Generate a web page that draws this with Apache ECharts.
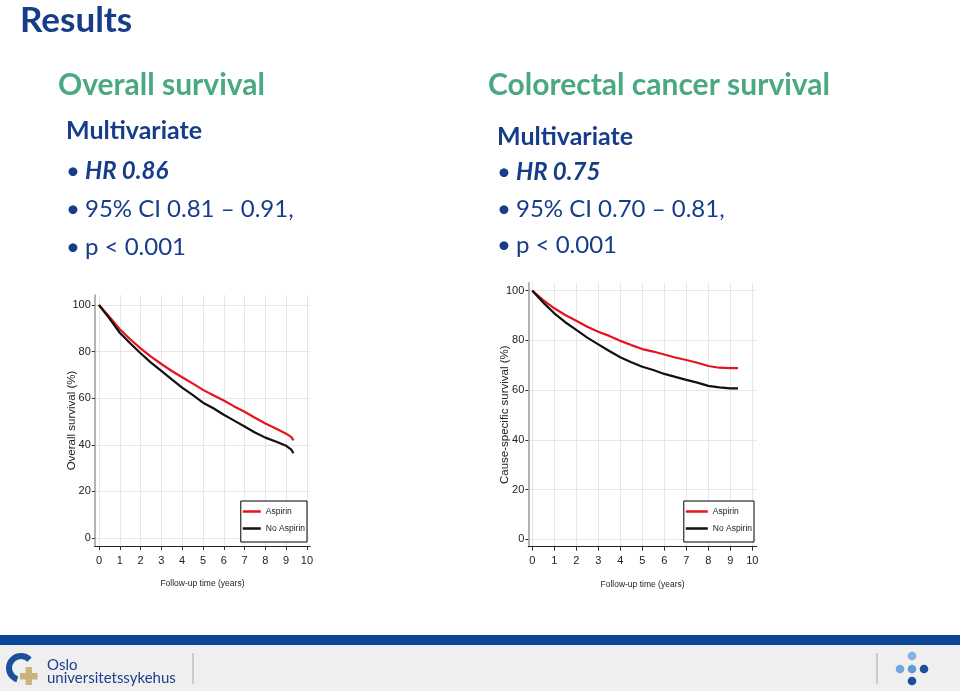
<!DOCTYPE html>
<html>
<head>
<meta charset="utf-8">
<script src="https://cdn.jsdelivr.net/npm/echarts@6/dist/echarts.min.js"></script>
<style>
html,body{margin:0;padding:0;background:#fff;}
#chart{width:960px;height:691px;}
</style>
</head>
<body>
<div id="chart"></div>
<script>
// ---- data ----
const seriesNames = ['Aspirin', 'No Aspirin'];
const xTicks = [0,1,2,3,4,5,6,7,8,9,10];
const yTicks = [0,20,40,60,80,100];

// Overall survival (%)
const osYears     = [0,0.5,1,1.5,2,2.5,3,3.5,4,4.5,5,5.5,6,6.5,7,7.5,8,8.5,9,9.25,9.35];
const osAspirin   = [100,95,89.6,85.3,81.4,77.9,74.7,71.7,69,66.4,63.6,61.3,59,56.5,54.2,51.6,49.2,47,44.8,43.3,41.9];
const osNoAspirin = [100,94.3,88.1,83.6,79.3,75.3,71.7,68.1,64.6,61.4,58.1,55.7,52.9,50.4,47.9,45.3,43.1,41.4,39.6,37.9,36.4];

// Cause-specific survival (%)
const csYears     = [0,0.5,1,1.5,2,2.5,3,3.5,4,4.5,5,5.5,6,6.5,7,7.5,8,8.5,9,9.35];
const csAspirin   = [100,96.2,92.9,90.2,87.9,85.5,83.5,81.8,79.8,78.1,76.5,75.5,74.3,73.1,72.1,71,69.7,69,68.8,68.8];
const csNoAspirin = [100,95.2,90.9,87.3,84.2,81.1,78.4,75.7,73.2,71.2,69.4,68.1,66.5,65.3,64.1,63,61.7,61.1,60.7,60.7];

// ---- helpers ----
const NARROW = "'Liberation Sans Narrow','Arial Narrow','Liberation Sans',Arial,sans-serif";
const SANS = "Lato,'Open Sans',sans-serif";
const NAVY = '#173d8a';
const GREEN = '#4aa882';
const RED = '#e3141b';
const BLACK = '#111111';

function pairs(xs, ys){ return xs.map((x,i)=>[x, ys[i]]); }

function xAxisCfg(gi, min, max){
  return {
    type:'value', gridIndex:gi, min:min, max:max,
    name:'Follow-up time (years)', nameLocation:'middle', nameGap:33, nameMoveOverlap:false,
    nameTextStyle:{fontFamily:NARROW, fontSize:8.5, color:'#222'},
    axisLine:{show:true, onZero:false, lineStyle:{color:'#222', width:1.2}},
    axisTick:{show:true, length:4, customValues:xTicks, lineStyle:{color:'#333'}},
    axisLabel:{fontFamily:NARROW, fontSize:11, color:'#222', margin:9, customValues:xTicks},
    splitLine:{show:true, lineStyle:{color:'#e6e6e6', width:1}}
  };
}
function yAxisCfg(gi, name, min, max){
  return {
    type:'value', gridIndex:gi, min:min, max:max,
    name:name, nameLocation:'middle', nameGap:17, nameRotate:90, nameMoveOverlap:false,
    nameTextStyle:{fontFamily:"'Liberation Sans',Arial,sans-serif", fontSize:11.5, color:'#222'},
    axisLine:{show:true, onZero:false, lineStyle:{color:'#9a9a9a', width:1.5}},
    axisTick:{show:true, length:3, customValues:yTicks, lineStyle:{color:'#333'}},
    axisLabel:{fontFamily:NARROW, fontSize:11, color:'#222', margin:4, customValues:yTicks},
    splitLine:{show:true, lineStyle:{color:'#e6e6e6', width:1}}
  };
}
function lineSeries(name, gi, data, color){
  return {
    type:'line', name:name, xAxisIndex:gi, yAxisIndex:gi, data:data,
    showSymbol:false, symbol:'none', smooth:false, animation:false,
    lineStyle:{color:color, width:2.2}, itemStyle:{color:color}
  };
}
function legendCfg(right, top, iw){
  return {
    right:right, top:top, orient:'vertical', selectedMode:false,
    data:seriesNames.map(n=>({name:n})),
    icon:'rect', itemWidth:iw, itemHeight:2.5, itemGap:6,
    padding:[5,2,8,2], borderColor:'#000', borderWidth:1, backgroundColor:'#fff',
    textStyle:{fontFamily:NARROW, fontSize:8.5, lineHeight:11, color:'#222'}
  };
}

function txt(x, y, text, font, fill){
  return {type:'text', left:x, top:y, silent:true,
    style:{text:text, font:font, fill:fill}};
}

const graphics = [
  // header texts
  txt(20, 3, 'Results', `bold 35px ${SANS}`, NAVY),
  txt(58, 70, 'Overall survival', `bold 30px ${SANS}`, GREEN),
  txt(66, 118, 'Multivariate', `bold 25px ${SANS}`, NAVY),
  txt(66, 159, '•', `24px ${SANS}`, NAVY),
  txt(85, 159, 'HR 0.86', `italic bold 24px ${SANS}`, NAVY),
  txt(66, 197, '•', `24px ${SANS}`, NAVY),
  txt(85, 197, '95% CI 0.81 – 0.91,', `24px ${SANS}`, NAVY),
  txt(66, 235, '•', `24px ${SANS}`, NAVY),
  txt(85, 235, 'p < 0.001', `24px ${SANS}`, NAVY),

  txt(488, 70, 'Colorectal cancer survival', `bold 30px ${SANS}`, GREEN),
  txt(497, 124, 'Multivariate', `bold 25px ${SANS}`, NAVY),
  txt(497, 160, '•', `24px ${SANS}`, NAVY),
  txt(516, 160, 'HR 0.75', `italic bold 24px ${SANS}`, NAVY),
  txt(497, 197, '•', `24px ${SANS}`, NAVY),
  txt(516, 197, '95% CI 0.70 – 0.81,', `24px ${SANS}`, NAVY),
  txt(497, 233, '•', `24px ${SANS}`, NAVY),
  txt(516, 233, 'p < 0.001', `24px ${SANS}`, NAVY),

  // footer
  {type:'rect', left:0, top:645, silent:true, shape:{width:960, height:46}, style:{fill:'#efefef'}},
  {type:'rect', left:0, top:635, silent:true, shape:{width:960, height:10}, style:{fill:'#0b4699'}},
  {type:'line', silent:true, shape:{x1:193, y1:653, x2:193, y2:684}, style:{stroke:'#9fa9b8', lineWidth:1}},
  {type:'line', silent:true, shape:{x1:877, y1:653, x2:877, y2:684}, style:{stroke:'#9fa9b8', lineWidth:1}},
  // logo icon: blue "C" arc + tan plus
  {type:'arc', silent:true, shape:{cx:21, cy:668, r:12, startAngle:-Math.PI*0.25, endAngle:Math.PI*0.6, clockwise:false},
    style:{stroke:'#1b4f9c', lineWidth:6, fill:null}},
  {type:'rect', silent:true, shape:{x:25.5, y:667, width:6.5, height:18}, style:{fill:'#c9b47c'}},
  {type:'rect', silent:true, shape:{x:20, y:673, width:17.5, height:6.5}, style:{fill:'#c9b47c'}},
  txt(47, 658, 'Oslo', `15px ${SANS}`, '#1d3f8c'),
  txt(47, 671, 'universitetssykehus', `15px ${SANS}`, '#1d3f8c'),
  // right dots
  {type:'circle', silent:true, shape:{cx:912, cy:656, r:4.3}, style:{fill:'#86b4de'}},
  {type:'circle', silent:true, shape:{cx:900, cy:669, r:4.3}, style:{fill:'#6fa8dc'}},
  {type:'circle', silent:true, shape:{cx:912, cy:669, r:4.3}, style:{fill:'#5c9bd6'}},
  {type:'circle', silent:true, shape:{cx:924, cy:669, r:4.3}, style:{fill:'#1b4f9c'}},
  {type:'circle', silent:true, shape:{cx:912, cy:681, r:4.3}, style:{fill:'#1b4f9c'}}
];

const chart = echarts.init(document.getElementById('chart'), null, {renderer:'canvas'});
chart.setOption({
  backgroundColor:'#ffffff',
  animation:false,
  grid:[
    {left:94.8, top:295, width:215.3, height:251, containLabel:false},
    {left:528.3, top:282.7, width:228.4, height:264, containLabel:false}
  ],
  xAxis:[xAxisCfg(0, -0.2, 10.15), xAxisCfg(1, -0.18, 10.2)],
  yAxis:[yAxisCfg(0, 'Overall survival (%)', -3.4, 104.3), yAxisCfg(1, 'Cause-specific survival (%)', -3, 103.2)],
  legend:[legendCfg(960-307,501,18), legendCfg(960-754,501,22)],
  series:[
    lineSeries('Aspirin', 0, pairs(osYears, osAspirin), RED),
    lineSeries('No Aspirin', 0, pairs(osYears, osNoAspirin), BLACK),
    lineSeries('Aspirin', 1, pairs(csYears, csAspirin), RED),
    lineSeries('No Aspirin', 1, pairs(csYears, csNoAspirin), BLACK)
  ],
  graphic:graphics
});
</script>
</body>
</html>
